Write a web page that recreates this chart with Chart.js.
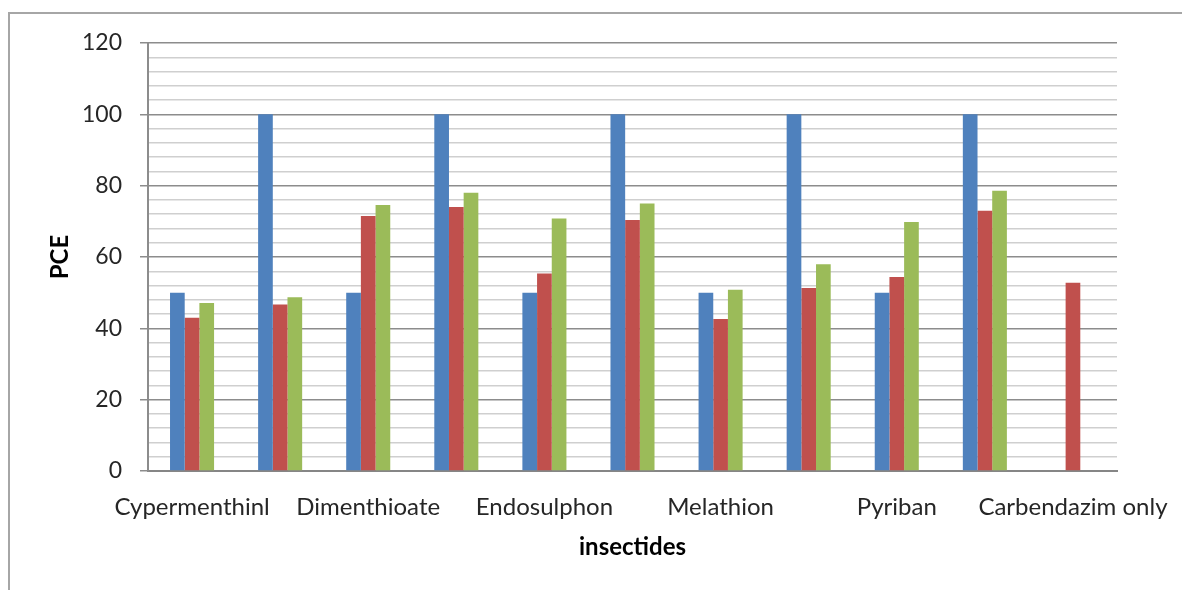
<!DOCTYPE html>
<html>
<head>
<meta charset="utf-8">
<script src="https://cdn.jsdelivr.net/npm/chart.js@4.4.1/dist/chart.umd.min.js"></script>
<style>
    html, body { margin: 0; padding: 0; background: #fff; }
    #wrap { position: relative; width: 1182px; height: 590px; }
    #frame { position: absolute; left: 8px; top: 12px; right: 0; bottom: 0; border-top: 2px solid #a6a6a6; border-left: 2px solid #a6a6a6; }
    canvas { position: absolute; left: 0; top: 0; }
</style>
</head>
<body>
<div id="wrap">
    <div id="frame"></div>
    <canvas id="pceChart" width="1182" height="590"></canvas>
</div>
<script>
// categories (Excel only printed every other name; the skipped ones are unknown)
const categories = ['Cypermenthinl', '', 'Dimenthioate', '', 'Endosulphon', '', 'Melathion', '', 'Pyriban', '', 'Carbendazim only'];

const seriesBlue  = [50, 100, 50, 100, 50, 100, 50, 100, 50, 100, null];
const seriesRed   = [43, 46.7, 71.5, 74, 55.4, 70.4, 42.6, 51.3, 54.4, 73, 52.8];
const seriesGreen = [47.1, 48.7, 74.6, 78, 70.8, 75, 50.8, 58, 69.8, 78.6, null];

const yMin = 0, yMax = 120, yMajor = 20, yMinor = 4;

const tickFont = { family: 'Lato', size: 23 };
const catFont = { family: 'Lato', size: 24 };
const titleFont = { family: 'Lato', size: 24, weight: 'bold' };

const isMajor = (v) => v % yMajor === 0;

function renderChart() {
    const ctx = document.getElementById('pceChart').getContext('2d');
    new Chart(ctx, {
        type: 'bar',
        data: {
            labels: categories,
            datasets: [
                { label: 'Series1', data: seriesBlue,  backgroundColor: '#4f81bd' },
                { label: 'Series2', data: seriesRed,   backgroundColor: '#c0504d' },
                { label: 'Series3', data: seriesGreen, backgroundColor: '#9bbb59' }
            ]
        },
        options: {
            responsive: false,
            animation: false,
            layout: { padding: { top: 43, right: 65, left: 0, bottom: 0 } },
            datasets: { bar: { categoryPercentage: 0.5, barPercentage: 1.0 } },
            plugins: { legend: { display: false }, tooltip: { enabled: false } },
            scales: {
                x: {
                    grid: { display: false },
                    border: { display: true, color: '#868686', width: 2 },
                    ticks: { color: '#262626', font: catFont, padding: 14, autoSkip: false, maxRotation: 0, minRotation: 0 },
                    title: { display: true, text: 'insectides', color: '#000', font: titleFont, padding: { top: 0, bottom: 28 } },
                    afterFit: (scale) => {
                        scale.height = 119;
                        scale.paddingLeft = 0;
                        scale.paddingRight = 0;
                    }
                },
                y: {
                    min: yMin,
                    max: yMax,
                    grid: {
                        color: (c) => isMajor(c.tick.value) ? '#8c8c8c' : '#cfcfcf',
                        lineWidth: 1.5,
                        tickColor: (c) => isMajor(c.tick.value) ? '#8c8c8c' : 'rgba(0,0,0,0)',
                        tickLength: 8
                    },
                    border: { display: true, color: '#8c8c8c', width: 2 },
                    ticks: {
                        stepSize: yMinor,
                        autoSkip: false,
                        color: '#262626',
                        font: tickFont,
                        padding: 18,
                        callback: (v) => isMajor(v) ? v : ''
                    },
                    title: { display: true, text: 'PCE', color: '#000', font: titleFont, padding: { top: 46, bottom: 0 } },
                    afterFit: (scale) => {
                        scale.width = 148;
                        scale.paddingTop = 0;
                        scale.paddingBottom = 0;
                    }
                }
            }
        }
    });
}

renderChart();
</script>
</body>
</html>
